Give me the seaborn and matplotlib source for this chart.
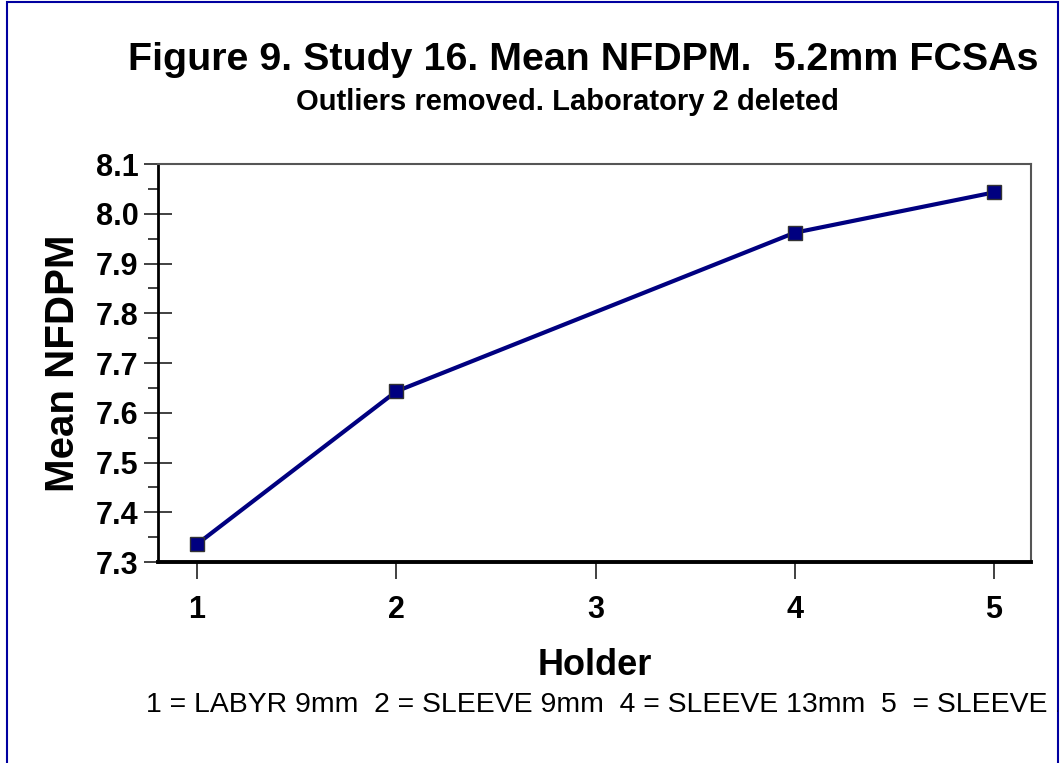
import numpy as np
import pandas as pd
import seaborn as sns
import matplotlib
matplotlib.use("Agg")
import matplotlib.pyplot as plt
from matplotlib.patches import Rectangle
from matplotlib.ticker import MultipleLocator
from matplotlib.transforms import Bbox, TransformedBbox

# data
holder = [1, 2, 4, 5]
mean_nfdpm = [7.336, 7.643, 7.962, 8.043]
x_ticks = [1, 2, 3, 4, 5]

title = "Figure 9. Study 16. Mean NFDPM.  5.2mm FCSAs"
subtitle = "Outliers removed. Laboratory 2 deleted"
footnote = "1 = LABYR 9mm  2 = SLEEVE 9mm  4 = SLEEVE 13mm  5  = SLEEVE 13mm"

navy = "#000080"

sns.set_style("white")
plt.rcParams['font.family'] = ['Liberation Sans', 'DejaVu Sans']
plt.rcParams['text.color'] = 'black'
plt.rcParams['axes.labelcolor'] = 'black'
plt.rcParams['xtick.color'] = 'black'
plt.rcParams['ytick.color'] = 'black'

df = pd.DataFrame({'Holder': holder, 'Mean NFDPM': mean_nfdpm})

fig = plt.figure(figsize=(10.62, 7.63), dpi=100)
ax = fig.add_axes([0.1488, 0.2634, 0.822, 0.5216])

sns.lineplot(data=df, x='Holder', y='Mean NFDPM', ax=ax, color=navy,
             linewidth=3, marker='s', markersize=10,
             markerfacecolor=navy, markeredgecolor='#333333', markeredgewidth=1)

ax.set_xlim(0.804, 5.186)
ax.set_ylim(7.3, 8.1)
ax.set_xticks(x_ticks)
ax.yaxis.set_major_locator(MultipleLocator(0.1))
ax.yaxis.set_minor_locator(MultipleLocator(0.05))
ax.yaxis.set_major_formatter(matplotlib.ticker.FormatStrFormatter('%.1f'))

ax.tick_params(axis='y', which='major', direction='inout', length=20, width=1.3,
               color='#333333', labelsize=22, pad=4, left=True)
ax.tick_params(axis='y', which='minor', direction='out', length=7, width=1.3,
               color='#333333', left=True)
ax.tick_params(axis='x', which='major', direction='out', length=12, width=1.3,
               color='#333333', labelsize=22, pad=12, bottom=True)
for lab in ax.get_xticklabels() + ax.get_yticklabels():
    lab.set_fontweight('bold')

for side in ['left', 'bottom']:
    ax.spines[side].set_color('black')
    ax.spines[side].set_linewidth(2)
ax.spines['bottom'].set_linewidth(2.8)
for side in ['top', 'right']:
    ax.spines[side].set_color('#555555')
    ax.spines[side].set_linewidth(1.5)

ax.set_xlabel('Holder', fontsize=26, fontweight='bold', labelpad=16)
ax.set_ylabel('Mean NFDPM', fontsize=29, fontweight='bold', labelpad=10)

fig.text(0.549, 0.922, title, ha='center', va='center', fontsize=28.4, fontweight='bold')
fig.text(0.534, 0.866, subtitle, ha='center', va='center', fontsize=21, fontweight='bold')

border_right = 1058 / 1062
note = fig.text(146 / 1062, 1 - 705 / 763, footnote, ha='left', va='center', fontsize=20.4)
note.set_clip_box(TransformedBbox(Bbox([[0, 0], [border_right, 1]]), fig.transFigure))
note.set_clip_on(True)

fig.patches.append(Rectangle((7 / 1062, -0.1), border_right - 7 / 1062, 1.1 - 2 / 763,
                             transform=fig.transFigure, fill=False,
                             edgecolor='#0000A0', linewidth=1.5))

fig.savefig('out.png', dpi=100)
